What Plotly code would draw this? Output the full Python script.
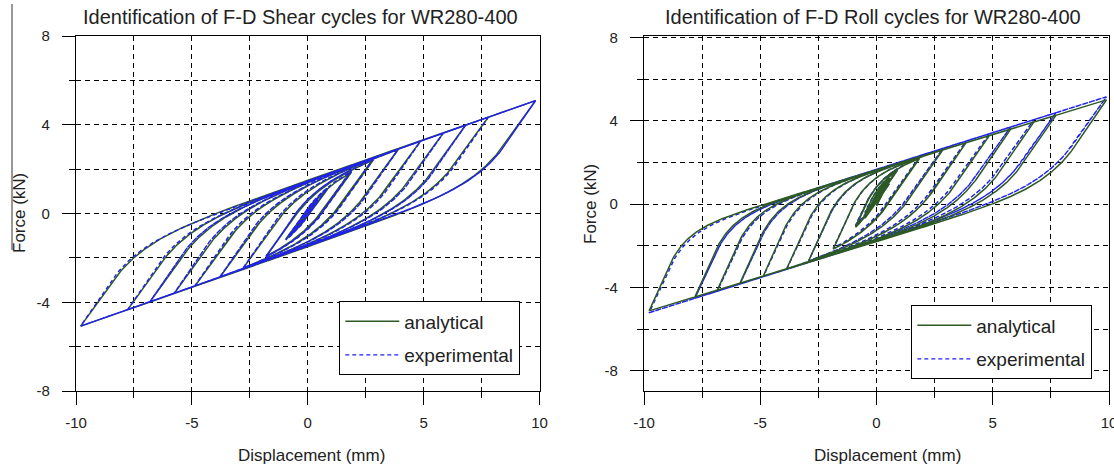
import numpy as np
import plotly.graph_objects as go

# ---------------- data ----------------
# Reversal (peak) displacements in mm, one entry per amplitude level
shear_pos_peaks = [0.45, 0.85, 1.89, 2.83, 3.91, 4.87, 5.85, 6.81, 7.79, 9.83]
shear_neg_peaks = [-0.70, -0.95, -1.80, -2.78, -3.79, -4.87, -5.76, -6.81, -7.77, -9.80]
roll_pos_peaks = [0.55, 0.90, 1.85, 2.85, 3.85, 4.85, 5.77, 6.77, 7.72, 9.89]
roll_neg_peaks = [-0.50, -0.90, -1.86, -2.92, -3.86, -4.87, -5.87, -6.85, -7.81, -9.78]
cycles_per_level = 2

# Hysteresis parameters read from the loop envelopes
# k2: post-yield slope (kN/mm), zmax: hysteretic force (kN),
# a_up / a_down: initial hysteretic stiffness on loading / unloading (kN/mm),
# offset: vertical shift of the loops (kN)
shear_analytical = dict(k2=0.365, zmax=1.50, a_up=1.10, a_down=1.10, offset=0.0)
shear_experimental = dict(k2=0.368, zmax=1.47, a_up=1.18, a_down=1.16, offset=0.0)
roll_analytical = dict(k2=0.340, zmax=1.72, a_up=2.20, a_down=1.30, offset=-0.08)
roll_experimental = dict(k2=0.352, zmax=1.72, a_up=2.10, a_down=1.24, offset=-0.05)

x_tick_labels = ["-10", "-5", "0", "5", "10"]
y_tick_labels = ["-8", "-4", "0", "4", "8"]


def hysteresis(pos, neg, p, n_cycles=cycles_per_level, step=0.02):
    targets = [0.0]
    for a, b in zip(pos, neg):
        for _ in range(n_cycles):
            targets += [a, b]
    xs = [0.0]
    zs = [0.0]
    z = 0.0
    for x0, x1 in zip(targets[:-1], targets[1:]):
        n = max(2, int(abs(x1 - x0) / step))
        dx = (x1 - x0) / n
        s = 1.0 if dx > 0 else -1.0
        A = p["a_up"] if s > 0 else p["a_down"]
        zm = p["zmax"]
        for i in range(1, n + 1):
            if z * s >= 0:
                z = s * zm - (s * zm - z) * np.exp(-A * abs(dx) / zm)
            else:
                z = z + A * dx
            xs.append(x0 + i * dx)
            zs.append(z)
    xs = np.array(xs)
    zs = np.array(zs)
    return xs, p["k2"] * xs + zs + p["offset"]


GREEN = "#2d5a24"
BLUE = "#2020f0"
FONT = "Liberation Sans, Arial, sans-serif"

fig = go.Figure()

# left panel: experimental drawn over analytical
xa, fa = hysteresis(shear_pos_peaks, shear_neg_peaks, shear_analytical)
xe, fe = hysteresis(shear_pos_peaks, shear_neg_peaks, shear_experimental)
fig.add_trace(go.Scatter(x=xa, y=fa, mode="lines", name="analytical",
                         line=dict(color=GREEN, width=1.5), legend="legend",
                         legendgroup="a", legendrank=1, xaxis="x", yaxis="y"))
fig.add_trace(go.Scatter(x=xe, y=fe, mode="lines", name="experimental",
                         line=dict(color=BLUE, width=1.4, dash="4px,3px"), legend="legend",
                         legendgroup="e", legendrank=2, xaxis="x", yaxis="y"))

# right panel: analytical drawn over experimental
xa2, fa2 = hysteresis(roll_pos_peaks, roll_neg_peaks, roll_analytical)
xe2, fe2 = hysteresis(roll_pos_peaks, roll_neg_peaks, roll_experimental)
fig.add_trace(go.Scatter(x=xe2, y=fe2, mode="lines", name="experimental",
                         line=dict(color=BLUE, width=1.4, dash="4px,3px"), legend="legend2",
                         legendgroup="e2", legendrank=2, xaxis="x2", yaxis="y2"))
fig.add_trace(go.Scatter(x=xa2, y=fa2, mode="lines", name="analytical",
                         line=dict(color=GREEN, width=1.5), legend="legend2",
                         legendgroup="a2", legendrank=1, xaxis="x2", yaxis="y2"))

W, H = 1114, 468


def px_x(p):
    return p / W


def px_y(p):
    return 1 - p / H


grid = dict(showgrid=True, gridcolor="black", gridwidth=1.1, griddash="5px,4px")
common = dict(showline=True, linecolor="black", linewidth=1.3, mirror=True,
              ticks="outside", ticklen=13, tickwidth=1.3, tickcolor="black",
              zeroline=False, tickfont=dict(family=FONT, size=15, color="#222"),
              automargin=False, ticklabeloverflow="allow", **grid)

xcommon = dict(common, range=[-10, 10], tickmode="array", ticklabelstandoff=5,
               tickvals=[-10, -5, 0, 5, 10], ticktext=x_tick_labels,
               minor=dict(tickmode="array", tickvals=[-7.5, -2.5, 2.5, 7.5], ticks="outside",
                          ticklen=6, tickwidth=1.3, tickcolor="black", **grid))
ycommon = dict(common, tickmode="array", tickvals=[-8, -4, 0, 4, 8], ticktext=y_tick_labels,
               ticklabelstandoff=9,
               minor=dict(tickmode="array", tickvals=[-6, -2, 2, 6], ticks="outside",
                          ticklen=6, tickwidth=1.3, tickcolor="black", **grid))

ydom = [px_y(391), px_y(36)]
legend_style = dict(xanchor="left", yanchor="top", bgcolor="white", bordercolor="black",
                    borderwidth=1.3, font=dict(family=FONT, size=19, color="#222"),
                    tracegroupgap=6, traceorder="grouped", itemwidth=54)
fig.update_layout(
    width=W, height=H, margin=dict(l=0, r=0, t=0, b=0, autoexpand=False),
    paper_bgcolor="white", plot_bgcolor="white",
    font=dict(family=FONT, color="#222"),
    xaxis=dict(xcommon, domain=[px_x(76), px_x(539.5)], anchor="y"),
    yaxis=dict(ycommon, domain=ydom, range=[-8, 8], anchor="x"),
    xaxis2=dict(xcommon, domain=[px_x(644), px_x(1109)], anchor="y2"),
    yaxis2=dict(ycommon, domain=ydom, range=[-8.97, 8.07], anchor="x2"),
    legend=dict(legend_style, x=px_x(339), y=px_y(301)),
    legend2=dict(legend_style, x=px_x(911), y=px_y(305)),
    showlegend=True,
)

annotations = []
for text, cx in [("Identification of F-D Shear cycles for WR280-400", 300),
                 ("Identification of F-D Roll cycles for WR280-400", 872.5)]:
    annotations.append(dict(text=text, x=px_x(cx), y=px_y(17), xref="paper", yref="paper",
                            xanchor="center", yanchor="middle", showarrow=False,
                            font=dict(family=FONT, size=20, color="#222")))
for cx in [311, 887]:
    annotations.append(dict(text="Displacement (mm)", x=px_x(cx), y=px_y(455),
                            xref="paper", yref="paper", xanchor="center", yanchor="middle",
                            showarrow=False, font=dict(family=FONT, size=17, color="#222")))
for cx, cy in [(20, 213), (590, 204)]:
    annotations.append(dict(text="Force (kN)", x=px_x(cx), y=px_y(cy), xref="paper",
                            yref="paper", xanchor="center", yanchor="middle",
                            showarrow=False, textangle=-90,
                            font=dict(family=FONT, size=17, color="#222")))
fig.update_layout(annotations=annotations)

# thin vertical edge line at the far left of the picture
fig.add_shape(type="line", xref="paper", yref="paper", x0=px_x(12), x1=px_x(12),
              y0=px_y(4), y1=px_y(250), line=dict(color="#333", width=1))

fig.write_html("out.html", config={"displayModeBar": False},
               post_script="document.body.style.margin='0';"
                           "document.body.style.overflow='hidden';")
